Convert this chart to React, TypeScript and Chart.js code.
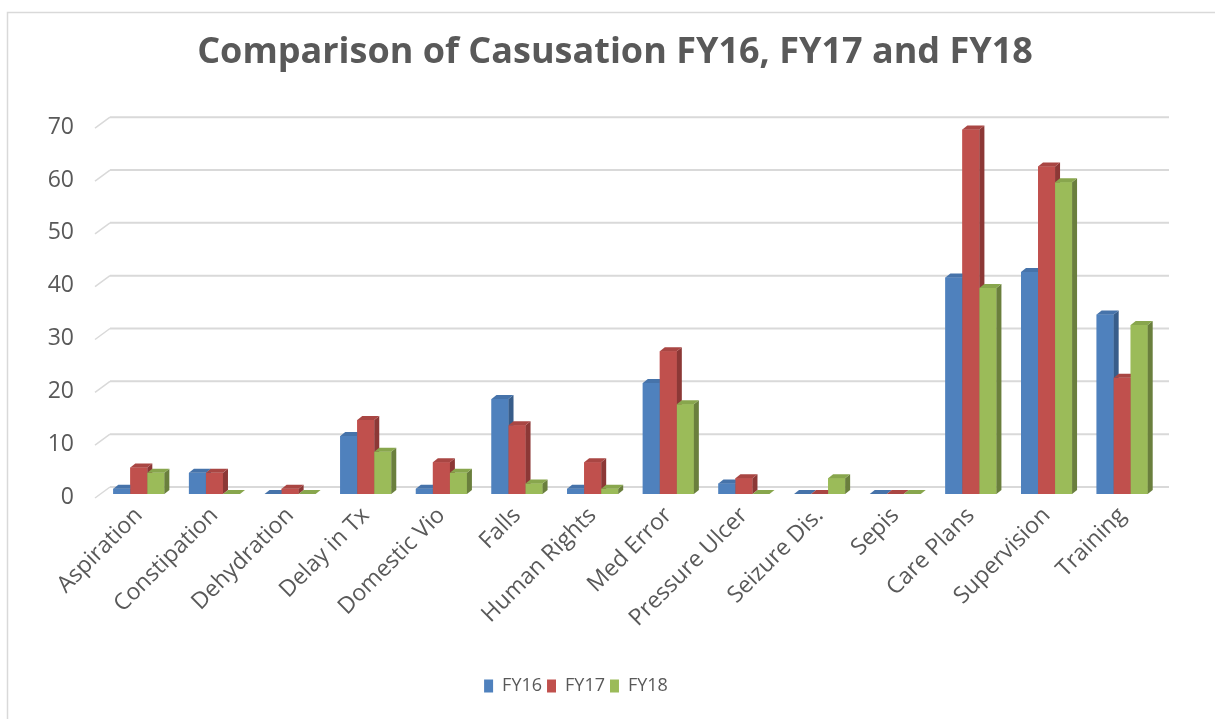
import React, { useEffect, useRef } from "react";
import { Chart, registerables } from "chart.js";

Chart.register(...registerables);

const titleText = "Comparison of Casusation FY16, FY17 and FY18";
const categories = [
  "Aspiration",
  "Constipation",
  "Dehydration",
  "Delay in Tx",
  "Domestic Vio",
  "Falls",
  "Human Rights",
  "Med Error",
  "Pressure Ulcer",
  "Seizure Dis.",
  "Sepis",
  "Care Plans",
  "Supervision",
  "Training",
];
const seriesNames = ["FY16", "FY17", "FY18"];
const fy16 = [1, 4, 0, 11, 1, 18, 1, 21, 2, 0, 0, 41, 42, 34];
const fy17 = [5, 4, 1, 14, 6, 13, 6, 27, 3, 0, 0, 69, 62, 22];
const fy18 = [4, 0, 0, 8, 4, 2, 1, 17, 0, 3, 0, 39, 59, 32];
const yTicks = [0, 10, 20, 30, 40, 50, 60, 70];

const frontColors = ["#4F81BD", "#C0504D", "#9BBB59"];
const topColors = ["#4673AA", "#A94643", "#88A64D"];
const sideColors = ["#385D8A", "#8C3836", "#6A7F3D"];

const DEPTH_X = 5;
const DEPTH_Y = 4;
const TITLE_SHIFT_X = 35;
const LEGEND_SHIFT_X = -4;
const TEXT = "#595959";
const GRID = "#D9D9D9";
const FONT = "'Open Sans', sans-serif";

const backgroundPlugin = {
  id: "bgBorder",
  beforeDraw(chart: any) {
    const { ctx, width, height } = chart;
    ctx.save();
    ctx.fillStyle = "#ffffff";
    ctx.fillRect(0, 0, width, height);
    ctx.strokeStyle = GRID;
    ctx.lineWidth = 1.5;
    ctx.beginPath();
    ctx.moveTo(7.5, height);
    ctx.lineTo(7.5, 12.5);
    ctx.lineTo(width, 12.5);
    ctx.stroke();
    ctx.restore();
  },
};

// Excel centres title and legend differently from Chart.js; nudge the boxes after layout
const boxShiftPlugin = {
  id: "boxShift",
  afterLayout(chart: any) {
    const lg = chart.legend;
    if (lg) {
      lg.left += LEGEND_SHIFT_X;
      lg.right += LEGEND_SHIFT_X;
    }
    const tb = chart.titleBlock;
    if (tb) {
      tb.left += TITLE_SHIFT_X;
      tb.right += TITLE_SHIFT_X;
    }
  },
};

const wallGridPlugin = {
  id: "wallGrid",
  beforeDatasetsDraw(chart: any) {
    const { ctx, chartArea } = chart;
    const yScale = chart.scales.y;
    ctx.save();
    ctx.strokeStyle = GRID;
    yScale.ticks.forEach((t: any) => {
      const p = yScale.getPixelForValue(t.value);
      ctx.lineWidth = 1.5;
      ctx.beginPath();
      ctx.moveTo(chartArea.left - 6, p + 4);
      ctx.lineTo(chartArea.left + 9, p - 7);
      ctx.stroke();
      ctx.lineWidth = 2;
      ctx.beginPath();
      ctx.moveTo(chartArea.left + 9, p - 7);
      ctx.lineTo(chartArea.right + 9, p - 7);
      ctx.stroke();
    });
    ctx.restore();
  },
};

// Redraws each series in order (front via the bar element, then its side and top faces)
const depthPlugin = {
  id: "depth3d",
  afterDatasetsDraw(chart: any) {
    const { ctx } = chart;
    ctx.save();
    chart.data.datasets.forEach((ds: any, i: number) => {
      const meta = chart.getDatasetMeta(i);
      if (meta.hidden) return;
      meta.data.forEach((bar: any) => {
        bar.draw(ctx, chart.chartArea);
        const { x, y, base, width } = bar.getProps(["x", "y", "base", "width"], true);
        const l = x - width / 2;
        const r = x + width / 2;
        ctx.fillStyle = ds.sideColor;
        ctx.beginPath();
        ctx.moveTo(r, y);
        ctx.lineTo(r + DEPTH_X, y - DEPTH_Y);
        ctx.lineTo(r + DEPTH_X, base - DEPTH_Y);
        ctx.lineTo(r, base);
        ctx.closePath();
        ctx.fill();
        ctx.fillStyle = ds.topColor;
        ctx.beginPath();
        ctx.moveTo(l, y);
        ctx.lineTo(r, y);
        ctx.lineTo(r + DEPTH_X, y - DEPTH_Y);
        ctx.lineTo(l + DEPTH_X, y - DEPTH_Y);
        ctx.closePath();
        ctx.fill();
      });
    });
    ctx.restore();
  },
};

export default function App() {
  const canvasRef = useRef<HTMLCanvasElement | null>(null);

  useEffect(() => {
    if (!canvasRef.current) return;
    Chart.defaults.font.family = FONT;
    const series = [fy16, fy17, fy18];
    const chart = new Chart(canvasRef.current, {
      type: "bar",
      data: {
        labels: categories,
        datasets: series.map((values, i) => ({
          label: seriesNames[i],
          data: values,
          backgroundColor: frontColors[i],
          borderWidth: 0,
          topColor: topColors[i],
          sideColor: sideColors[i],
          categoryPercentage: 0.675,
          barPercentage: 1.0,
        })) as any,
      },
      options: {
        responsive: false,
        animation: false,
        layout: { padding: { top: 20, right: 55, bottom: 14, left: 0 } },
        plugins: {
          title: {
            display: true,
            text: titleText,
            color: TEXT,
            font: { family: FONT, size: 36, weight: "bold" },
            padding: { top: 11, bottom: 50 },
          },
          legend: {
            position: "bottom",
            labels: {
              color: TEXT,
              font: { family: FONT, size: 18 },
              boxWidth: 9,
              boxHeight: 13,
              padding: 5,
            },
          },
          tooltip: { enabled: false },
        },
        scales: {
          x: {
            grid: { display: false, drawTicks: false },
            border: { display: false },
            ticks: {
              color: TEXT,
              font: { family: FONT, size: 23 },
              minRotation: 45,
              maxRotation: 45,
              autoSkip: false,
              padding: 8,
            },
            afterFit: (scale: any) => {
              scale.height = 178;
            },
          },
          y: {
            min: 0,
            max: 70,
            grid: { display: false, drawTicks: false },
            border: { display: false },
            ticks: {
              color: TEXT,
              font: { family: FONT, size: 23 },
              padding: 27,
              labelOffset: 3,
            },
            afterBuildTicks: (scale: any) => {
              scale.ticks = yTicks.map((v) => ({ value: v }));
            },
            afterFit: (scale: any) => {
              scale.width = 101;
            },
          },
        },
      },
      plugins: [backgroundPlugin, boxShiftPlugin, wallGridPlugin, depthPlugin],
    });
    return () => chart.destroy();
  }, []);

  return (
    <div style={{ position: "fixed", left: 0, top: 0, width: 1215, height: 719, background: "#fff" }}>
      <canvas ref={canvasRef} width={1215} height={719} style={{ display: "block", width: 1215, height: 719 }} />
    </div>
  );
}
